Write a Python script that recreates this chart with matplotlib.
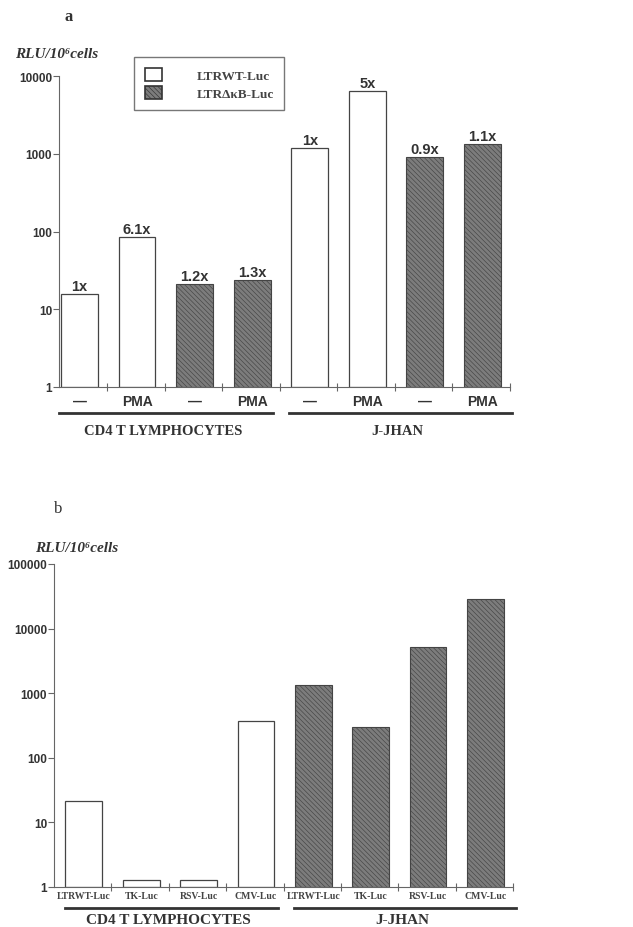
import matplotlib.pyplot as plt
from matplotlib.patches import Patch
import matplotlib.transforms as mtransforms
import numpy as np

# panel a
a_ticklabels = ["—", "PMA", "—", "PMA", "—", "PMA", "—", "PMA"]
a_values = [15.5, 85, 21, 24, 1180, 6400, 900, 1350]
a_folds = ["1x", "6.1x", "1.2x", "1.3x", "1x", "5x", "0.9x", "1.1x"]
a_hatched = [False, False, True, True, False, False, True, True]
a_groups = ["CD4 T LYMPHOCYTES", "J-JHAN"]

# panel b
b_ticklabels = ["LTRWT-Luc", "TK-Luc", "RSV-Luc", "CMV-Luc",
                "LTRWT-Luc", "TK-Luc", "RSV-Luc", "CMV-Luc"]
b_values = [21.5, 1.3, 1.3, 365, 1360, 297, 5100, 28500]
b_hatched = [False, False, False, False, True, True, True, True]
b_groups = ["CD4 T LYMPHOCYTES", "J-JHAN"]

legend_labels = ["LTRWT-Luc", "LTR\u0394\u03baB-Luc"]

plt.rcParams['hatch.linewidth'] = 0.45
W, H = 633, 928
fig = plt.figure(figsize=(W / 100, H / 100), dpi=100)

serif = "Liberation Serif"
sans = "Liberation Sans"
dark = "#7c7c7c"
axcol = "#666666"
HATCH = "\\\\\\\\\\\\\\"


def fx(px):
    return px / W


def fy(py):
    return 1 - py / H


def draw_bars(ax, values, hatched):
    x = np.arange(len(values)) + 0.52
    for xi, v, h in zip(x, values, hatched):
        if h:
            ax.bar(xi, v - 1, width=0.64, bottom=1, color=dark, edgecolor="#444444",
                   hatch=HATCH, linewidth=0.8, zorder=2)
        else:
            ax.bar(xi, v - 1, width=0.64, bottom=1, color="white", edgecolor="#444444",
                   linewidth=0.9, zorder=2)
    return x


def style_axes(ax, ymax):
    ax.set_yscale("log")
    ax.set_ylim(1, ymax)
    for s in ["top", "right"]:
        ax.spines[s].set_visible(False)
    ax.spines["left"].set_color(axcol)
    ax.spines["bottom"].set_color(axcol)
    ax.yaxis.set_minor_locator(plt.NullLocator())
    n = int(round(np.log10(ymax)))
    ax.set_yticks([10 ** k for k in range(n + 1)])
    ax.set_yticklabels([str(10 ** k) for k in range(n + 1)],
                       fontfamily=sans, fontsize=8.5, fontweight="bold", color="#333333")
    ax.tick_params(axis="y", direction="out", length=4, color=axcol, pad=1)
    ax.set_xticks(np.arange(1, 9))
    ax.set_xticklabels([])
    ax.tick_params(axis="x", direction="inout", length=6, color=axcol)


def group_lines(ax, y_line, y_text, spans, names, size):
    trans = mtransforms.blended_transform_factory(ax.transData, ax.transAxes)
    for (x0, x1), name in zip(spans, names):
        ax.plot([x0, x1], [y_line, y_line], transform=trans, color="#333333",
                lw=2, clip_on=False)
        ax.text((x0 + x1) / 2 - 0.05, y_text, name, transform=trans, ha="center",
                va="center", fontfamily=serif, fontsize=size, fontweight="bold",
                color="#333333")


# ---------- panel a ----------
axa = fig.add_axes([fx(59), fy(388), fx(451), 311 / H])
xa = draw_bars(axa, a_values, a_hatched)
axa.set_xlim(0.164, 8)
style_axes(axa, 10000)
for xi, v, t in zip(xa, a_values, a_folds):
    axa.text(xi, v * 1.03, t, ha="center", va="bottom", fontfamily=sans,
             fontsize=10.5, fontweight="bold", color="#333333")
trans_a = mtransforms.blended_transform_factory(axa.transData, axa.transAxes)
for xi, t in zip(xa, a_ticklabels):
    axa.text(xi, -0.045, t, transform=trans_a, ha="center", va="center",
             fontfamily=sans, fontsize=10, fontweight="bold", color="#333333")
group_lines(axa, -0.084, -0.14, [(0.164, 3.88), (4.16, 8.04)], a_groups, 10.5)

handles = [Patch(facecolor="white", edgecolor="#333333", linewidth=1.2),
           Patch(facecolor=dark, edgecolor="#333333", hatch=HATCH, linewidth=1.2)]
leg = fig.legend(handles, legend_labels, loc="upper left",
                 bbox_to_anchor=(fx(134), fy(58)), frameon=True, fancybox=False,
                 edgecolor="#555555", handlelength=1.35, handleheight=1.15,
                 handletextpad=2.6, borderpad=0.8, borderaxespad=0,
                 labelspacing=0.3, prop={"family": serif, "size": 9.5, "weight": "bold"})
for t in leg.get_texts():
    t.set_color("#444444")
leg.get_frame().set_linewidth(1.0)

fig.text(fx(69), fy(17), "a", ha="center", va="center", fontfamily=serif,
         fontsize=12, fontweight="bold", color="#333333")
fig.text(fx(15), fy(55), "RLU/10\u2076cells", ha="left", va="center", fontfamily=serif,
         fontsize=11, fontstyle="italic", fontweight="bold", color="#333333")

# ---------- panel b ----------
axb = fig.add_axes([fx(54), fy(888), fx(459), 323 / H])
xb = draw_bars(axb, b_values, b_hatched)
axb.set_xlim(0, 8)
style_axes(axb, 100000)
trans_b = mtransforms.blended_transform_factory(axb.transData, axb.transAxes)
for xi, t in zip(xb, b_ticklabels):
    axb.text(xi, -0.025, t, transform=trans_b, ha="center", va="center",
             fontfamily=serif, fontsize=7, fontweight="bold", color="#444444")
group_lines(axb, -0.065, -0.1, [(0.2, 3.9), (4.18, 8.05)], b_groups, 11)

fig.text(fx(58), fy(509), "b", ha="center", va="center", fontfamily=serif,
         fontsize=12, color="#333333")
fig.text(fx(35), fy(548), "RLU/10\u2076cells", ha="left", va="center", fontfamily=serif,
         fontsize=11, fontstyle="italic", fontweight="bold", color="#333333")

fig.savefig("out.png", dpi=100)
